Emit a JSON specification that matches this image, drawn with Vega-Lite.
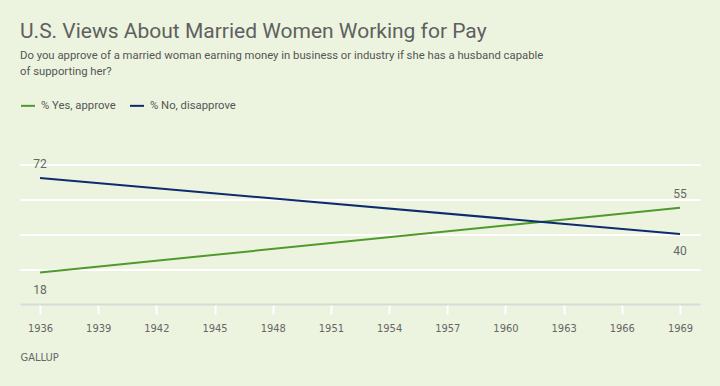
{
  "$schema": "https://vega.github.io/schema/vega-lite/v6.json",
  "width": 680,
  "height": 143.5,
  "autosize": {"type": "none"},
  "padding": {"left": 20, "top": 160.5, "right": 20, "bottom": 82},
  "background": "#ecf4df",
  "title": {
    "text": "U.S. Views About Married Women Working for Pay",
    "subtitle": ["Do you approve of a married woman earning money in business or industry if she has a husband capable", "of supporting her?"],
    "anchor": "start",
    "frame": "group",
    "font": "Roboto",
    "fontSize": 21,
    "fontWeight": "normal",
    "color": "#606060",
    "subtitleFont": "Roboto",
    "subtitleFontSize": 11.3,
    "subtitleColor": "#555555",
    "subtitlePadding": 8,
    "subtitleLineHeight": 16,
    "offset": 20
  },
  "config": {
    "view": {"stroke": null},
    "legend": {
      "orient": "none",
      "legendX": 0,
      "legendY": -63,
      "direction": "horizontal",
      "title": null,
      "symbolType": "stroke",
      "symbolSize": 196,
      "symbolStrokeWidth": 2,
      "labelFont": "Roboto",
      "labelFontSize": 11.3,
      "labelColor": "#555555",
      "columnPadding": 10,
      "labelOffset": 5
    }
  },
  "data": {
    "values": [
      {"year": 1936, "series": "% Yes, approve", "value": 18},
      {"year": 1969, "series": "% Yes, approve", "value": 55},
      {"year": 1936, "series": "% No, disapprove", "value": 72},
      {"year": 1969, "series": "% No, disapprove", "value": 40}
    ]
  },
  "encoding": {
    "x": {
      "field": "year",
      "type": "quantitative",
      "scale": {"domain": [1936, 1969], "nice": false, "zero": false, "padding": 20},
      "axis": {
        "values": [1936, 1939, 1942, 1945, 1948, 1951, 1954, 1957, 1960, 1963, 1966, 1969],
        "format": "d",
        "grid": false,
        "domainColor": "#d9d9d9",
        "domainWidth": 2,
        "tickColor": "#ffffff",
        "tickWidth": 2,
        "tickSize": 10,
        "labelFont": "DejaVu Sans Condensed",
        "labelFontSize": 11,
        "labelColor": "#666666",
        "labelPadding": 8,
        "title": "GALLUP",
        "titleAnchor": "start",
        "titleFont": "DejaVu Sans Condensed",
        "titleFontSize": 11,
        "titleFontWeight": "normal",
        "titleColor": "#666666",
        "titlePadding": 18
      }
    },
    "y": {
      "field": "value",
      "type": "quantitative",
      "scale": {"domain": [0, 82], "nice": false},
      "axis": {
        "values": [20, 40, 60, 80],
        "labels": false,
        "ticks": false,
        "domain": false,
        "title": null,
        "gridColor": "#ffffff",
        "gridWidth": 2,
        "gridOpacity": 1
      }
    }
  },
  "layer": [
    {
      "mark": {"type": "line", "strokeWidth": 2},
      "encoding": {
        "color": {
          "field": "series",
          "type": "nominal",
          "scale": {"domain": ["% Yes, approve", "% No, disapprove"], "range": ["#4e9a2c", "#0f2b70"]}
        }
      }
    },
    {
      "transform": [
        {"joinaggregate": [{"op": "max", "field": "value", "as": "maxv"}], "groupby": ["year"]},
        {"filter": "datum.value == datum.maxv"}
      ],
      "mark": {"type": "text", "dy": -14, "font": "Roboto", "fontSize": 12, "color": "#666666"},
      "encoding": {"text": {"field": "value", "type": "quantitative"}}
    },
    {
      "transform": [
        {"joinaggregate": [{"op": "min", "field": "value", "as": "minv"}], "groupby": ["year"]},
        {"filter": "datum.value == datum.minv"}
      ],
      "mark": {"type": "text", "dy": 17, "font": "Roboto", "fontSize": 12, "color": "#666666"},
      "encoding": {"text": {"field": "value", "type": "quantitative"}}
    }
  ]
}
